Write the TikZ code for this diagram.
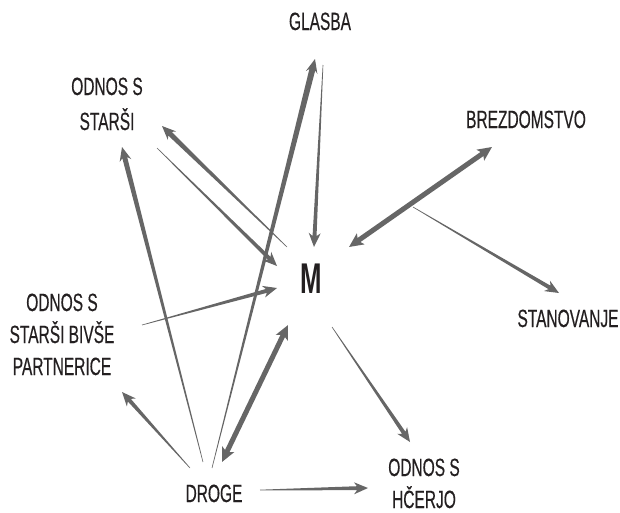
\documentclass[tikz,border=0pt]{standalone}
\usepackage{fontspec}
\usetikzlibrary{calc,arrows.meta}
\newfontfamily\lblfont[FakeStretch=0.62,FakeBold=0.4]{Liberation Sans}
\newfontfamily\mfont[FakeStretch=0.6]{Liberation Sans}
\definecolor{arrowgray}{RGB}{102,102,102}
\definecolor{txtcol}{RGB}{35,31,32}
\newcommand\tarr[3]{%
  \coordinate (tq) at ($(#2)!11pt!(#1)$);
  \coordinate (tb) at ($(#2)!14pt!(#1)$);
  \fill[arrowgray] ($(#1)!0.3pt!90:(#2)$) -- ($(tq)!#3!90:(#2)$) -- ($(tb)!6pt!90:(#2)$) -- (#2)
     -- ($(tb)!6pt!-90:(#2)$) -- ($(tq)!#3!-90:(#2)$) -- ($(#1)!0.3pt!-90:(#2)$) -- cycle;
}
\begin{document}
\begin{tikzpicture}[x=1pt,y=-1pt,
  lbl/.style={font={\lblfont\fontsize{25}{32}\selectfont}, text=txtcol, inner sep=0pt, align=center, anchor=base},
  dbl/.style={draw=arrowgray, line width=5pt,
     {Stealth[length=14pt,width=13pt,inset=3pt]}-{Stealth[length=14pt,width=13pt,inset=3pt]}}]
\useasboundingbox (0,0) rectangle (620,512);
% labels
\node[lbl] (glasba) at (320,30) {GLASBA};
\node[lbl, font={\lblfont\fontsize{25}{35}\selectfont}] (starsi) at (107,130) {ODNOS S\\STARŠI};
\node[lbl] (brez) at (526,128) {BREZDOMSTVO};
\node[font={\mfont\bfseries\fontsize{43}{43}\selectfont}, text=txtcol, inner sep=0pt, anchor=base] (m) at (311.5,293) {M};
\node[lbl] (stan) at (568,327) {STANOVANJE};
\node[lbl] (partner) at (62,375) {ODNOS S\\STARŠI BIVŠE\\PARTNERICE};
\node[lbl] (droge) at (214,502) {DROGE};
\node[lbl] (hcerjo) at (424,508) {ODNOS S\\HČERJO};
% arrow end points
\coordinate (gS) at (323,65);   \coordinate (mT) at (314,247);
\coordinate (dG) at (212,468);  \coordinate (gT) at (315,59);
\coordinate (mS1) at (287,247); \coordinate (sT) at (162,126);
\coordinate (sS) at (157,148);  \coordinate (mT2) at (277,266);
\coordinate (dS) at (203,462);  \coordinate (sT2) at (122,147);
\coordinate (pS) at (142,325);  \coordinate (mT3) at (277,288);
\coordinate (dP) at (190,468);  \coordinate (pT) at (122,392);
\coordinate (dH) at (260,490);  \coordinate (hT) at (368,488);
\coordinate (mS2) at (332,327); \coordinate (hT2) at (410,442);
\coordinate (bS) at (413,207);  \coordinate (stT) at (559,293);
\coordinate (mB) at (349,247);  \coordinate (bT) at (492,147);
\coordinate (mD) at (288,325);  \coordinate (dT) at (222,462);
% tapered arrows
\tarr{gS}{mT}{2pt}
\tarr{dG}{gT}{3pt}
\tarr{mS1}{sT}{2.5pt}
\tarr{sS}{mT2}{2pt}
\tarr{dS}{sT2}{2.5pt}
\tarr{pS}{mT3}{2pt}
\tarr{dP}{pT}{2pt}
\tarr{dH}{hT}{2pt}
\tarr{mS2}{hT2}{2pt}
\tarr{bS}{stT}{2pt}
% double arrows
\draw[dbl] (mB) -- (bT);
\draw[dbl] (mD) -- (dT);
\end{tikzpicture}
\end{document}
